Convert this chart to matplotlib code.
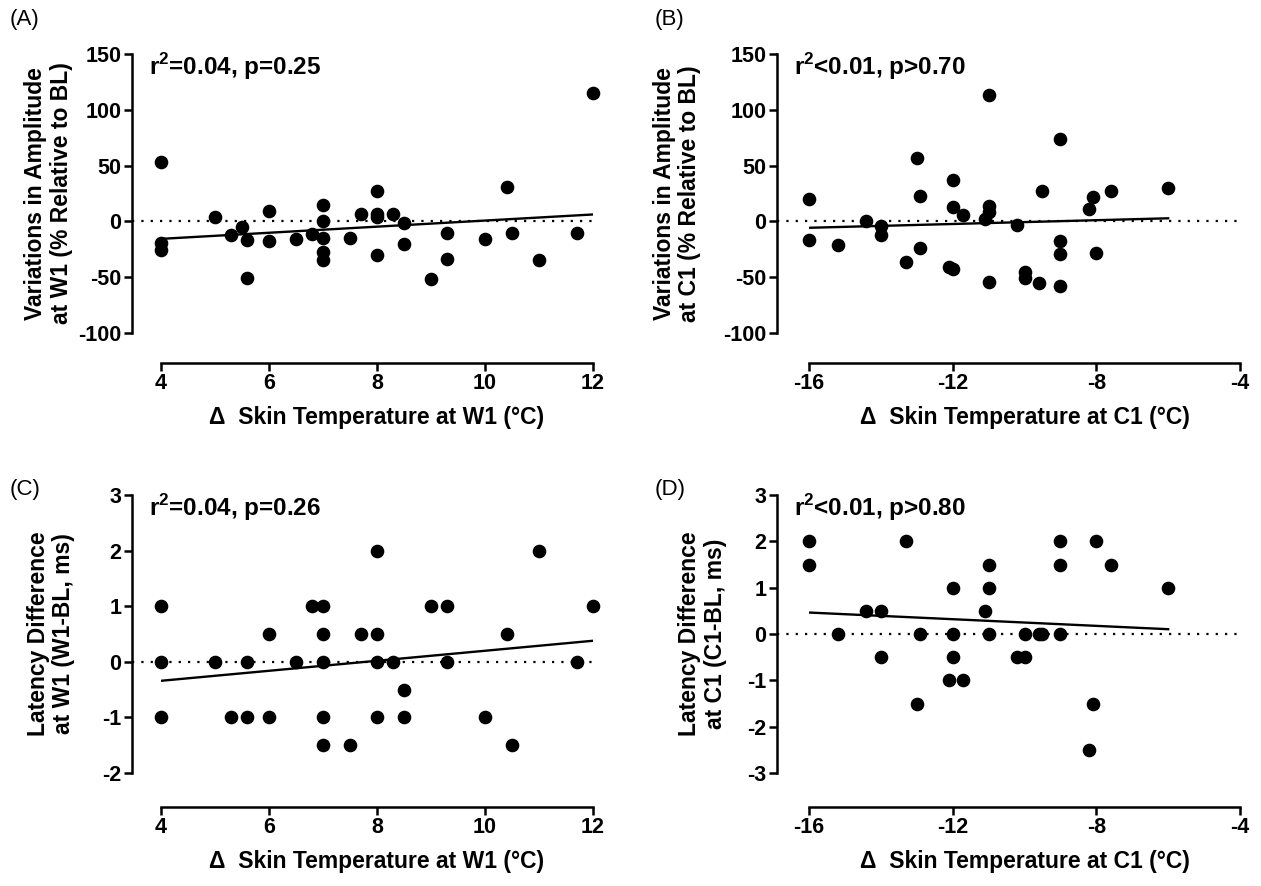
import numpy as np
import matplotlib as mp
import matplotlib.pyplot as plt

mp.rcParams['font.family'] = ['Liberation Sans', 'DejaVu Sans']
mp.rcParams['font.weight'] = 'bold'
mp.rcParams['axes.unicode_minus'] = False
mp.rcParams['mathtext.fontset'] = 'custom'
mp.rcParams['mathtext.bf'] = 'Liberation Sans:bold'
mp.rcParams['mathtext.rm'] = 'Liberation Sans:bold'

# --- data ---
# (A) amplitude vs skin temperature at W1
xA = [4, 4, 4, 5, 5.3, 5.5, 5.6, 5.6, 6, 6, 6.5, 6.8, 7, 7, 7, 7, 7,
      7.5, 7.7, 8, 8, 8, 8, 8.3, 8.5, 8.5, 9, 9.3, 9.3, 10, 10.4, 10.5,
      11, 11.7, 12]
yA = [53, -19, -26, 4, -12, -5, -17, -51, 9, -18, -16, -11, 15, 0, -15,
      -27, -35, -15, 7, 27, 7, 4, -30, 7, -1, -20, -52, -10, -34, -16,
      31, -10, -35, -10, 115]

# (B) amplitude vs skin temperature at C1
xB = [-16, -16, -15.2, -14.4, -14, -14, -13.3, -13, -12.9, -12.9, -12.1,
      -12, -12, -12, -11.7, -11, -11, -11, -11.1, -11, -10.2, -10, -10,
      -9.6, -9.5, -9, -9, -9, -9, -8.2, -8.1, -8, -7.6, -6]
yB = [20, -17, -21, 0, -4, -12, -36, 57, 23, -24, -41, -43, 37, 13, 6,
      113, 14, 8, 2, -54, -3, -45, -51, -55, 27, 74, -18, -29, -58, 11,
      22, -28, 27, 30]

# (C) latency vs skin temperature at W1
xC = [8, 11,
      4, 6.8, 7, 9, 9.3, 12,
      6, 7, 7.7, 8, 10.4,
      4, 5, 5.6, 6.5, 7, 8, 8.3, 9.3, 11.7,
      8.5,
      4, 5.3, 5.6, 6, 7, 8, 8.5, 10,
      7, 7.5, 10.5]
yC = [2, 2,
      1, 1, 1, 1, 1, 1,
      0.5, 0.5, 0.5, 0.5, 0.5,
      0, 0, 0, 0, 0, 0, 0, 0, 0,
      -0.5,
      -1, -1, -1, -1, -1, -1, -1, -1,
      -1.5, -1.5, -1.5]

# (D) latency vs skin temperature at C1
xD = [-16, -13.3, -9, -8,
      -16, -11, -9, -7.6,
      -12, -11, -6,
      -14.4, -14, -11.1,
      -15.2, -12.9, -12, -11, -10, -9.6, -9.5, -9,
      -14, -12, -10.2, -10,
      -12.1, -11.7,
      -13, -8.1,
      -8.2]
yD = [2, 2, 2, 2,
      1.5, 1.5, 1.5, 1.5,
      1, 1, 1,
      0.5, 0.5, 0.5,
      0, 0, 0, 0, 0, 0, 0, 0,
      -0.5, -0.5, -0.5, -0.5,
      -1, -1,
      -1.5, -1.5,
      -2.5]

ticksW = [4, 6, 8, 10, 12]
ticksC = [-16, -12, -8, -4]
ticksAmp = [-100, -50, 0, 50, 100, 150]
ticksLatW = [-2, -1, 0, 1, 2, 3]
ticksLatC = [-3, -2, -1, 0, 1, 2, 3]

xlabW = u'\u0394  Skin Temperature at W1 (\u00b0C)'
xlabC = u'\u0394  Skin Temperature at C1 (\u00b0C)'

W, H = 1261, 886
fig = plt.figure(figsize=(W/100, H/100), dpi=100)


def px_axes(x0, y0, x1, y1):
    # axes from pixel corners (top-left origin)
    return fig.add_axes([x0/W, 1 - y1/H, (x1 - x0)/W, (y1 - y0)/H])


def panel(ax, x, y, xt, yt, xlab, ylab, stat, tag, yax_px, xax_px, ylab_x):
    ax.plot(x, y, 'o', color='black', ms=8.8, clip_on=False, zorder=3)

    # linear fit
    m, c = np.polyfit(x, y, 1)
    xx = np.array([min(x), max(x)])
    ax.plot(xx, m*xx + c, color='black', lw=1.7, zorder=2)

    ax.set_xlim(xt[0], xt[-1])
    ax.set_ylim(yt[0], yt[-1])
    ax.set_xticks(xt)
    ax.set_yticks(yt)

    # dotted zero line starting from the offset y axis
    bb = ax.get_position()
    off = -yax_px / (bb.width * W)
    ax.axhline(0, xmin=off, xmax=1, color='black', lw=1.6,
               ls=(0, (1, 3.2)), clip_on=False, zorder=1)

    for s in ['top', 'right']:
        ax.spines[s].set_visible(False)
    ax.spines['left'].set_position(('outward', yax_px*0.72))
    ax.spines['bottom'].set_position(('outward', xax_px*0.72))
    ax.spines['left'].set_linewidth(1.8)
    ax.spines['bottom'].set_linewidth(1.8)
    ax.tick_params(width=1.8, length=5.5, labelsize=15.5, pad=2)
    for t in ax.get_xticklabels() + ax.get_yticklabels():
        t.set_fontweight('bold')

    ax.set_xlabel(xlab, fontsize=16.5, fontweight='bold', labelpad=8)
    ax.set_ylabel(ylab, fontsize=16.5, fontweight='bold', linespacing=1.15)
    ax.yaxis.set_label_coords(ylab_x, 0.5)

    ax.text(0.02 - (yax_px - 8)/(bb.width*W), 1.01, stat, transform=ax.transAxes,
            fontsize=17.5, fontweight='bold', va='top', ha='left')
    fig.text(tag[1]/W, 1 - tag[2]/H, tag[0], fontsize=16,
             fontweight='normal', va='center', ha='left')


axA = px_axes(161, 54, 593, 333)
panel(axA, xA, yA, ticksW, ticksAmp, xlabW,
      'Variations in Amplitude\nat W1 (% Relative to BL)',
      r'r$^\mathbf{2}$=0.04, p=0.25', ('(A)', 10, 20), 29, 30, -0.204)

axB = px_axes(809, 54, 1240, 333)
panel(axB, xB, yB, ticksC, ticksAmp, xlabC,
      'Variations in Amplitude\nat C1 (% Relative to BL)',
      r'r$^\mathbf{2}$<0.01, p>0.70', ('(B)', 655, 20), 32, 30, -0.25)

axC = px_axes(161, 495, 593, 773)
panel(axC, xC, yC, ticksW, ticksLatW, xlabW,
      'Latency Difference\nat W1 (W1-BL, ms)',
      r'r$^\mathbf{2}$=0.04, p=0.26', ('(C)', 10, 490), 29, 34, -0.198)

axD = px_axes(809, 495, 1240, 773)
panel(axD, xD, yD, ticksC, ticksLatC, xlabC,
      'Latency Difference\nat C1 (C1-BL, ms)',
      r'r$^\mathbf{2}$<0.01, p>0.80', ('(D)', 655, 490), 32, 34, -0.19)

fig.savefig('out.png', dpi=100)
